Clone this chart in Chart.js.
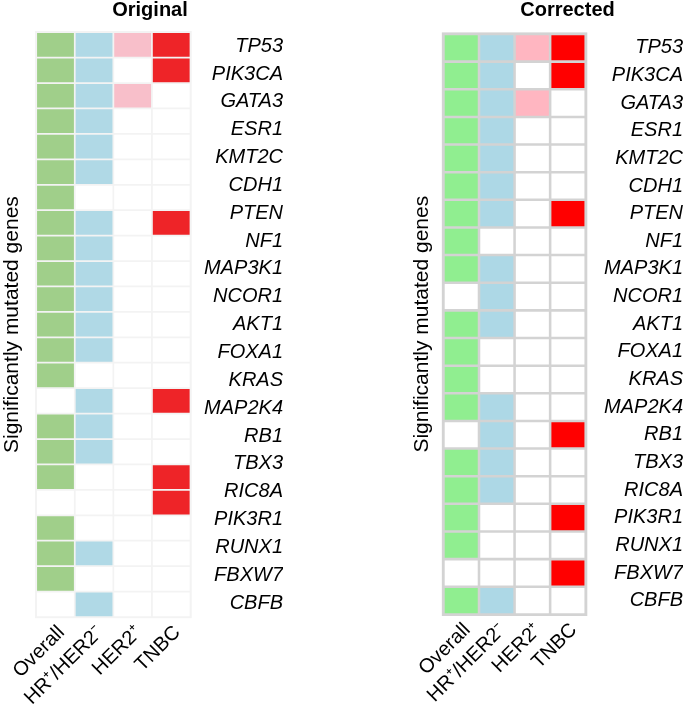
<!DOCTYPE html>
<html lang="en">
<head>
  <meta charset="UTF-8">
  <title>Significantly mutated genes</title>
  <script src="https://cdn.jsdelivr.net/npm/chart.js"></script>
  <style>
    body { margin: 0; background: #fff; }
    #wrap { position: relative; width: 685px; height: 713px; }
    canvas { position: absolute; top: 0; }
  </style>
</head>
<body>
  <div id="wrap">
    <canvas id="origChart" width="300" height="713" style="left:0"></canvas>
    <canvas id="corrChart" width="277" height="713" style="left:408px"></canvas>
  </div>

  <script>
    // gene labels (top to bottom) and subtype columns
    const genes = ['TP53', 'PIK3CA', 'GATA3', 'ESR1', 'KMT2C', 'CDH1', 'PTEN', 'NF1', 'MAP3K1', 'NCOR1', 'AKT1',
      'FOXA1', 'KRAS', 'MAP2K4', 'RB1', 'TBX3', 'RIC8A', 'PIK3R1', 'RUNX1', 'FBXW7', 'CBFB'];
    const subtypes = ['Overall', 'HR\u207A/HER2\u207B', 'HER2\u207A', 'TNBC'];

    // Original panel: 23 rows of cells drawn against the 21 gene labels
    const origRows = ['1', '2', '3', '4', '5', '6', '7', '8', '9', '10', '11', '12',
      '13', '14', '15', '16', '17', '18', '19', '20', '21', '22', '23'];
    const origOverall = [1, 1, 1, 1, 1, 1, 1, 1, 1, 1, 1, 1, 1, 1, 0, 1, 1, 1, 0, 1, 1, 1, 0];
    const origHR      = [1, 1, 1, 1, 1, 1, 0, 1, 1, 1, 1, 1, 1, 0, 1, 1, 1, 0, 0, 0, 1, 0, 1];
    const origHER2    = [1, 0, 1, 0, 0, 0, 0, 0, 0, 0, 0, 0, 0, 0, 0, 0, 0, 0, 0, 0, 0, 0, 0];
    const origTNBC    = [1, 1, 0, 0, 0, 0, 0, 1, 0, 0, 0, 0, 0, 0, 1, 0, 0, 1, 1, 0, 0, 0, 0];

    // Corrected panel: one row per gene
    const corrOverall = [1, 1, 1, 1, 1, 1, 1, 1, 1, 0, 1, 1, 1, 1, 0, 1, 1, 1, 1, 0, 1];
    const corrHR      = [1, 1, 1, 1, 1, 1, 1, 0, 1, 1, 1, 0, 0, 1, 1, 1, 1, 0, 0, 0, 1];
    const corrHER2    = [1, 0, 1, 0, 0, 0, 0, 0, 0, 0, 0, 0, 0, 0, 0, 0, 0, 0, 0, 0, 0];
    const corrTNBC    = [1, 1, 0, 0, 0, 0, 1, 0, 0, 0, 0, 0, 0, 0, 1, 0, 0, 1, 0, 1, 0];

    Chart.defaults.font.family = '"Liberation Sans", Arial, Helvetica, sans-serif';
    Chart.defaults.color = '#000';

    // bold panel heading drawn at a fixed spot
    const panelTitle = {
      id: 'panelTitle',
      afterDraw(chart, args, opts) {
        const ctx = chart.ctx;
        ctx.save();
        ctx.font = 'bold 20px "Liberation Sans", Arial, sans-serif';
        ctx.fillStyle = '#000';
        ctx.textAlign = 'center';
        ctx.textBaseline = 'alphabetic';
        ctx.fillText(opts.text, opts.x, opts.y);
        ctx.restore();
      }
    };

    // grey frame behind the cells
    const gridFrame = {
      id: 'gridFrame',
      beforeDatasetsDraw(chart, args, opts) {
        const { left, top, right, bottom } = chart.chartArea;
        const w = opts.width;
        const ctx = chart.ctx;
        ctx.save();
        ctx.fillStyle = opts.color;
        ctx.fillRect(left - w, top - w, right - left + 2 * w, bottom - top + 2 * w);
        ctx.restore();
      }
    };

    function heatmap(id, rows, columns, s) {
      const ctx = document.getElementById(id).getContext('2d');
      return new Chart(ctx, {
        type: 'bar',
        data: {
          labels: rows,
          datasets: columns.map((flags, i) => ({
            label: subtypes[i],
            data: flags.map(() => 1),
            backgroundColor: flags.map(f => f ? s.fills[i] : '#ffffff'),
            borderColor: s.gridColor,
            borderWidth: s.gap,
            borderSkipped: false,
            categoryPercentage: 1,
            barPercentage: 1,
            xAxisID: 'x',
            yAxisID: 'y'
          }))
        },
        options: {
          indexAxis: 'y',
          responsive: false,
          animation: false,
          events: [],
          layout: { padding: { top: s.top, left: 0, right: s.rightPad, bottom: 0 } },
          plugins: {
            legend: { display: false },
            tooltip: { enabled: false },
            panelTitle: { text: s.title, x: s.titleX, y: 16 },
            gridFrame: { width: s.gap, color: s.gridColor }
          },
          scales: {
            x: { type: 'linear', axis: 'x', stacked: true, min: 0, max: 4, display: false },
            y: {
              type: 'category', axis: 'y', position: 'left', stacked: true, offset: true,
              ticks: { display: false },
              grid: { display: false, drawTicks: false },
              border: { display: false },
              title: {
                display: true, text: 'Significantly mutated genes', color: '#000',
                font: { size: 21 }, padding: { top: 0, bottom: 0 }
              },
              afterFit: sc => { sc.width = s.leftW; }
            },
            yGenes: {
              type: 'category', axis: 'y', position: 'right', labels: genes, offset: true,
              grid: { display: false, drawTicks: false },
              border: { display: false },
              ticks: { crossAlign: 'far', autoSkip: false, color: '#000',
                font: { size: 20, style: 'italic' } },
              afterFit: sc => { sc.width = s.rightW; }
            },
            xCols: {
              type: 'category', axis: 'x', position: 'bottom', labels: subtypes, offset: true,
              grid: { display: false, drawTicks: false },
              border: { display: false },
              ticks: { minRotation: 45, maxRotation: 45, autoSkip: false, padding: 4, labelOffset: 6,
                color: '#000', font: { size: 20 } },
              afterFit: sc => { sc.height = s.bottomH; }
            }
          }
        },
        plugins: [gridFrame, panelTitle]
      });
    }

    heatmap('origChart', origRows, [origOverall, origHR, origHER2, origTNBC], {
      title: 'Original', titleX: 150,
      fills: ['#a0cf8a', '#b0d9e6', '#f8bfca', '#ee2428'],
      gridColor: '#f3f3f3', gap: 1.2,
      top: 32.2, leftW: 36.2, rightW: 92.5, rightPad: 17, bottomH: 96
    });

    heatmap('corrChart', genes, [corrOverall, corrHR, corrHER2, corrTNBC], {
      title: 'Corrected', titleX: 159.5,
      fills: ['#90ee90', '#add8e6', '#ffb6c1', '#ff0000'],
      gridColor: '#d3d3d3', gap: 1.6,
      top: 34, leftW: 33.6, rightW: 97.3, rightPad: 2, bottomH: 98.6
    });
  </script>
</body>
</html>
